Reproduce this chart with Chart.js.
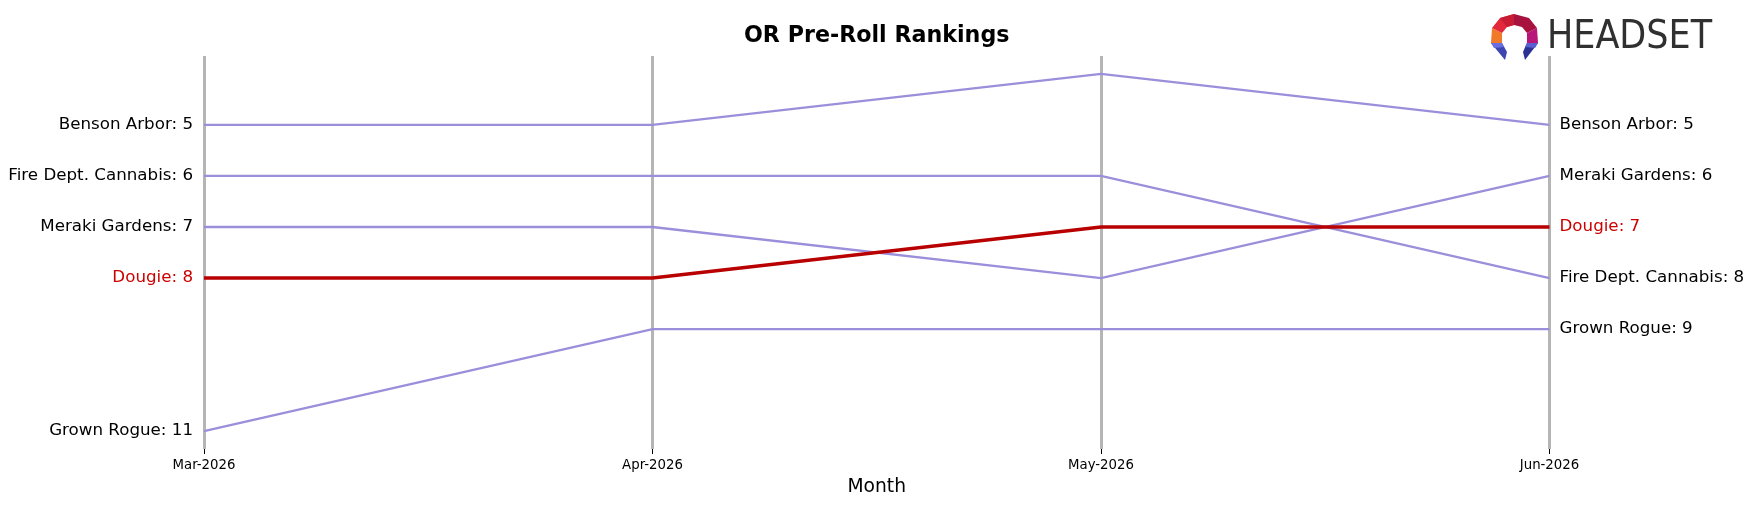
<!DOCTYPE html>
<html>
<head>
<meta charset="utf-8">
<script src="https://cdn.jsdelivr.net/npm/chart.js@4.4.1/dist/chart.umd.min.js"></script>
<style>
  html, body { margin: 0; padding: 0; background: #ffffff; }
  #wrap { width: 1753px; height: 507px; position: relative; }
</style>
</head>
<body>
<div id="wrap"><canvas id="c" width="1753" height="507"></canvas></div>
<script>
// ---- data ----
const months = ["Mar-2026", "Apr-2026", "May-2026", "Jun-2026"];
const brands = ["Dougie", "Benson Arbor", "Fire Dept. Cannabis", "Meraki Gardens", "Grown Rogue"];
const dougie = [8, 8, 7, 7];
const bensonArbor = [5, 5, 4, 5];
const fireDept = [6, 6, 6, 8];
const merakiGardens = [7, 7, 8, 6];
const grownRogue = [11, 9, 9, 9];
const highlight = "Dougie";
const chartTitle = "OR Pre-Roll Rankings";
const xTitle = "Month";

const seriesValues = [dougie, bensonArbor, fireDept, merakiGardens, grownRogue];

const RED = "#b80000";
const RED_TEXT = "#cc0000";
const PURPLE = "#9b8edb";

const datasets = brands.map((b, i) => ({
  label: b,
  data: seriesValues[i],
  borderColor: b === highlight ? RED : PURPLE,
  borderWidth: b === highlight ? 3.5 : 2.3,
  pointRadius: 0,
  tension: 0,
  fill: false,
  order: b === highlight ? 0 : 1
}));

const endLabels = {
  id: "endLabels",
  afterDatasetsDraw(chart) {
    const ctx = chart.ctx;
    const ys = chart.scales.y;
    const area = chart.chartArea;
    ctx.save();
    ctx.font = "16.7px 'DejaVu Sans'";
    ctx.textBaseline = "middle";
    chart.data.datasets.forEach(ds => {
      const vals = ds.data;
      ctx.fillStyle = ds.label === highlight ? RED_TEXT : "#000000";
      ctx.textAlign = "right";
      ctx.fillText(ds.label + ": " + vals[0], area.left - 11, ys.getPixelForValue(vals[0]));
      ctx.textAlign = "left";
      ctx.fillText(ds.label + ": " + vals[vals.length - 1], area.right + 10, ys.getPixelForValue(vals[vals.length - 1]));
    });
    ctx.restore();
  }
};

const logo = {
  id: "logo",
  afterDraw(chart) {
    const ctx = chart.ctx;
    ctx.save();
    const poly = (pts, color) => {
      ctx.beginPath();
      ctx.moveTo(pts[0][0], pts[0][1]);
      for (let k = 1; k < pts.length; k++) ctx.lineTo(pts[k][0], pts[k][1]);
      ctx.closePath();
      ctx.fillStyle = color;
      ctx.fill();
    };
    // icon
    poly([[1491,43],[1492,28],[1502,33],[1502,43]], "#f07a2a");
    poly([[1492,28],[1500,18],[1514,14],[1514,25],[1507,27],[1502,33]], "#e2283a");
    poly([[1500,18],[1514,14],[1514,25],[1507,27]], "#c81b34");
    poly([[1514,14],[1529,18],[1537,28],[1527,33],[1522,27],[1514,25]], "#a8123e");
    poly([[1537,28],[1538,43],[1527,43],[1527,33]], "#b8167a");
    poly([[1491,43],[1502,43],[1507,52],[1505,60]], "#3d45b2");
    poly([[1491,43],[1502,43],[1504,47],[1494,48]], "#6a6fe0");
    poly([[1527,43],[1538,43],[1525,60],[1523,52]], "#2c3194");
    poly([[1527,43],[1538,43],[1535,48],[1525,47]], "#5a5fd0");
    // text
    ctx.fillStyle = "#303030";
    ctx.font = "39px 'Liberation Sans Narrow', 'DejaVu Sans Condensed', 'Liberation Sans', sans-serif";
    ctx.textBaseline = "alphabetic";
    ctx.textAlign = "left";
    const w = ctx.measureText("HEADSET").width;
    ctx.translate(1547, 48);
    ctx.scale(165 / w, 1);
    ctx.fillText("HEADSET", 0, 0);
    ctx.restore();
  }
};

new Chart(document.getElementById("c"), {
  type: "line",
  data: { labels: months, datasets },
  plugins: [endLabels, logo],
  options: {
    responsive: false,
    animation: false,
    layout: { padding: { left: 204, right: 203.5, top: 0, bottom: 0 } },
    plugins: {
      legend: { display: false },
      tooltip: { enabled: false },
      title: {
        display: true,
        text: chartTitle,
        color: "#000000",
        font: { family: "'DejaVu Sans'", size: 22.2, weight: "bold", lineHeight: 1.2 },
        padding: { top: 23.4, bottom: 6 }
      }
    },
    scales: {
      x: {
        type: "category",
        offset: false,
        border: { display: false },
        grid: {
          display: true,
          color: "#b5b5b5",
          lineWidth: 3,
          drawOnChartArea: true,
          drawTicks: true,
          tickLength: 5,
          tickColor: "#000000",
          tickWidth: 1
        },
        ticks: {
          color: "#000000",
          font: { family: "'DejaVu Sans'", size: 13.3 },
          padding: 4,
          maxRotation: 0,
          autoSkip: false
        },
        title: {
          display: true,
          text: xTitle,
          color: "#000000",
          font: { family: "'DejaVu Sans'", size: 18.7, lineHeight: 1.2 },
          padding: { top: 0, bottom: 8.8 }
        },
        afterFit(scale) { scale.height = 58; }
      },
      y: {
        display: false,
        reverse: true,
        min: 3.65,
        max: 11.35
      }
    }
  }
});
</script>
</body>
</html>
